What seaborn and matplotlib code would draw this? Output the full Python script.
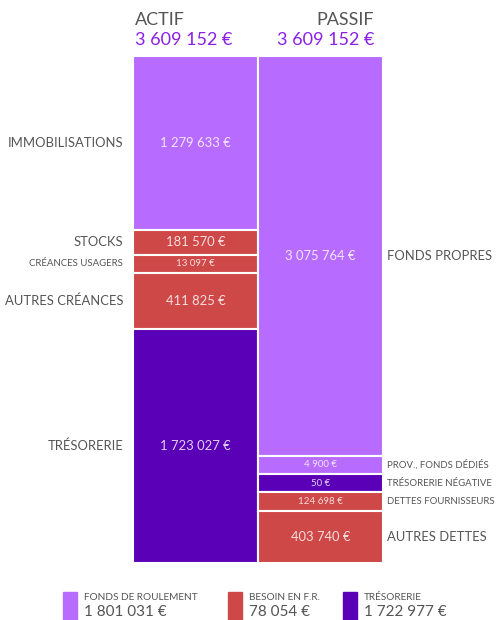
import matplotlib
matplotlib.use("Agg")
import matplotlib.pyplot as plt
import seaborn as sns
import pandas as pd
from matplotlib.patches import Rectangle

# ---- data ----
sides = ["ACTIF", "PASSIF"]
side_totals = [3609152, 3609152]

actif_labels = ["IMMOBILISATIONS", "STOCKS", "CRÉANCES USAGERS", "AUTRES CRÉANCES", "TRÉSORERIE"]
actif_values = [1279633, 181570, 13097, 411825, 1723027]
actif_groups = ["fr", "bfr", "bfr", "bfr", "treso"]

passif_labels = ["FONDS PROPRES", "PROV., FONDS DÉDIÉS", "TRÉSORERIE NÉGATIVE",
                 "DETTES FOURNISSEURS", "AUTRES DETTES"]
passif_values = [3075764, 4900, 50, 124698, 403740]
passif_groups = ["fr", "fr", "treso", "bfr", "bfr"]

legend_groups = ["fr", "bfr", "treso"]
legend_labels = ["FONDS DE ROULEMENT", "BESOIN EN F.R.", "TRÉSORERIE"]
legend_values = [1801031, 78054, 1722977]

colors = {"fr": "#B76CFF", "bfr": "#CF4848", "treso": "#5A00B7"}
MIN_FRAC = 0.036


def euro(v):
    return f"{v:,}".replace(",", " ") + " €"


def display_heights(values):
    # small items get a minimum height, the rest share what is left
    total = sum(values)
    small = [v / total < MIN_FRAC for v in values]
    while True:
        rest = sum(v for v, s in zip(values, small) if not s)
        room = 1 - MIN_FRAC * sum(small)
        new = [s or v / rest * room < MIN_FRAC for v, s in zip(values, small)]
        if new == small:
            break
        small = new
    return [MIN_FRAC * total if s else v / rest * room * total for v, s in zip(values, small)]


rows = []
for side, labels, values, groups in [("ACTIF", actif_labels, actif_values, actif_groups),
                                     ("PASSIF", passif_labels, passif_values, passif_groups)]:
    heights = display_heights(values)
    top = sum(values)
    for lab, val, grp, h in zip(labels, values, groups, heights):
        rows.append(dict(side=side, label=lab, value=val, group=grp, height=h, bottom=top - h))
        top -= h
df = pd.DataFrame(rows)

sns.set_theme(style="white")
plt.rcParams["font.family"] = ["Lato", "DejaVu Sans"]

W, H = 500, 620
TXT = "#555555"
fig = plt.figure(figsize=(5, 6.2), dpi=100)
ax = fig.add_axes([133 / W, (H - 563) / H, 250 / W, 507 / H])

for _, r in df.iterrows():
    sns.barplot(x=[r.side], y=[r.height], bottom=r.bottom, order=sides,
                color=colors[r.group], saturation=1, width=1.0, errorbar=None,
                edgecolor="white", linewidth=1.5, ax=ax)

ax.set_xlim(-0.5, 1.5)
ax.set_ylim(0, max(side_totals))
ax.axis("off")

for _, r in df.iterrows():
    xi = sides.index(r.side)
    yc = r.bottom + r.height / 2
    big = r.height / side_totals[xi] > 0.045
    ax.text(xi, yc, euro(r.value), ha="center", va="center",
            fontsize=9.4 if big else 7, color="white", alpha=0.82)
    if r.side == "ACTIF":
        ax.annotate(r.label, xy=(-0.5, yc), xytext=(-7, 0), textcoords="offset points",
                    ha="right", va="center", fontsize=9.4 if big else 6.9, color=TXT,
                    annotation_clip=False)
    else:
        ax.annotate(r.label, xy=(1.5, yc), xytext=(3, 0), textcoords="offset points",
                    ha="left", va="center", fontsize=9.4 if big else 6.9, color=TXT,
                    annotation_clip=False)

# headers
fig.text(135 / W, 1 - 20 / H, sides[0], ha="left", va="center", fontsize=13, color=TXT)
fig.text(135 / W, 1 - 40 / H, euro(side_totals[0]), ha="left", va="center", fontsize=13,
         color="#8A1FE6")
fig.text(374 / W, 1 - 20 / H, sides[1], ha="right", va="center", fontsize=13, color=TXT)
fig.text(374 / W, 1 - 40 / H, euro(side_totals[1]), ha="right", va="center", fontsize=13,
         color="#8A1FE6")

# legend
leg_x = [63, 228, 343]
for x, g, lab, val in zip(leg_x, legend_groups, legend_labels, legend_values):
    fig.patches.append(Rectangle((x / W, 1 - 620 / H), 14 / W, 28 / H, transform=fig.transFigure,
                                 color=colors[g]))
    fig.text((x + 21) / W, 1 - 598 / H, lab, ha="left", va="center", fontsize=7.2, color=TXT)
    fig.text((x + 21) / W, 1 - 612 / H, euro(val), ha="left", va="center", fontsize=11,
             color=TXT)

fig.savefig("out.png", dpi=100)
